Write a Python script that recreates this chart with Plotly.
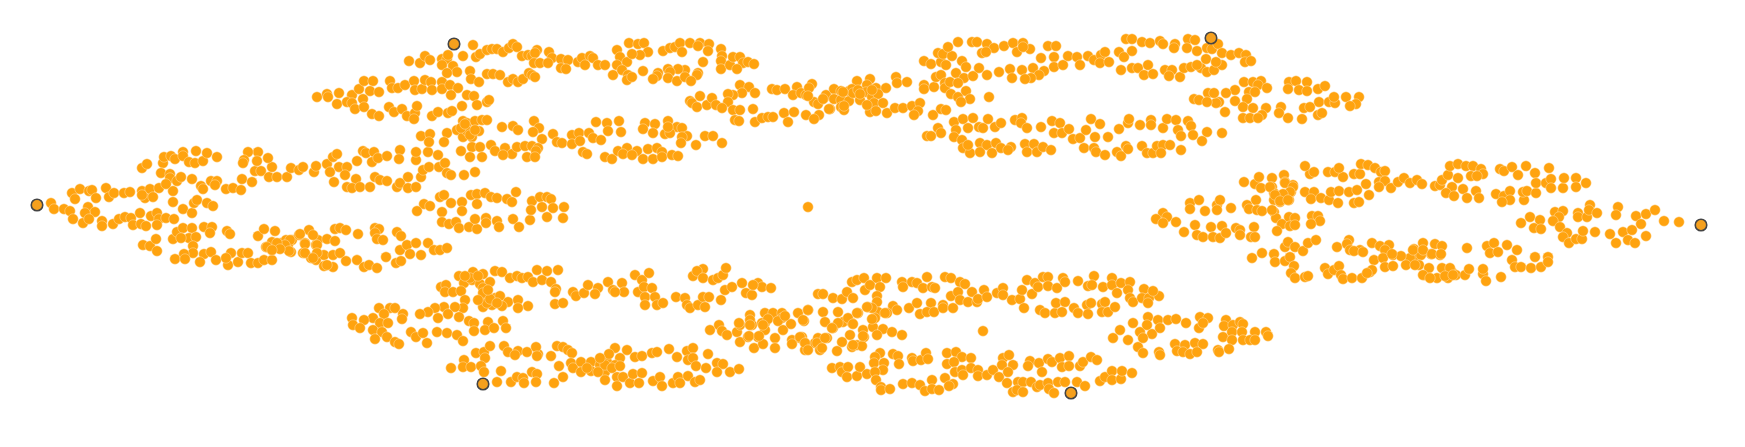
import plotly.graph_objects as go

left_arm = [(51,203),(54,209),(64,209),(70,211),(73,219),(83,223),(72,193),(80,189),(75,199),(89,191),(92,190),(96,198),(106,188),(109,197),(114,193),(124,193),(130,192),(142,191),(150,189),(159,188),(145,198),(153,197),(142,195),(88,207),(95,212),(85,213),(89,219),(102,221),(102,226),(113,224),(119,219),(125,217),(131,218),(140,213),(133,225),(141,224),(146,226),(151,216),(157,213),(159,219),(157,225),(166,218),(174,219),
(173,191),(173,202),(183,209),(192,213),(194,203),(197,200),(207,203),(213,206),(201,186),(203,189),(211,181),(217,181),(215,185),(226,189),(233,188),(241,190),(242,179),(252,182),(255,171),(261,171),(269,177),(277,177),(272,167),(268,158),(258,152),(248,152),(244,160),(243,163),(257,161),
(142,168),(147,164),(163,163),(164,157),(171,156),(175,159),(183,152),(183,156),(189,162),(196,151),(195,163),(203,161),(207,153),(217,157),(161,173),(170,174),(170,178),(166,184),(177,181),(181,177),(192,179),
(287,177),(291,168),(299,170),(303,167),(314,172),(316,166),(327,164),(333,157),(337,154),(330,172),(334,182),(339,167),(347,167),(345,175),(356,179),(347,187),(352,188),(360,187),(370,187),(357,161),(363,151),(366,153),(374,152),(372,162),(378,158),(387,156),(400,150),(399,159),(375,177),(380,180),(387,181),(397,187),(400,183),(408,177),(408,188),(416,187),(421,177),(423,170),(429,167),(416,160),(416,152),(428,152),(438,155),(439,167),(445,163),(447,173),(451,175),(464,175),(475,172),
(440,197),(444,195),(424,204),(430,206),(417,211),(451,203),(462,202),(462,211),(442,212),(442,222),(449,224),(456,222),(459,228),(469,227),(477,229),(475,219),(486,218),(486,223),(497,221),(499,227),(513,219),(519,227),(530,220),(471,195),(477,194),(485,193),(491,197),(497,198),(477,204),(507,199),(512,202),(516,192),(532,201),(540,197),(547,197),(551,199),(531,210),(542,207),(553,208),(564,207),(547,217),(563,218),
(143,245),(150,246),(156,239),(157,251),(173,239),(177,232),(183,228),(192,228),(189,238),(196,237),(181,238),(193,246),(193,253),(184,254),(175,259),(185,259),(204,227),(212,227),(210,233),(204,254),(211,252),(200,262),(216,260),(227,231),(230,234),(231,253),(228,265),(226,258),(238,262),(242,253),(248,253),(251,263),(258,263),(258,236),(264,229),(275,231),(272,250),(266,247),(272,242),(264,260),(272,260),(281,243),(286,240),(292,240),(288,245),(291,252),(299,235),(309,230),(305,243),(303,253),(318,240),(316,245),(327,239),(335,241),(335,229),(340,228),(346,230),(358,234),(375,228),(379,229),(375,233),(377,239),(383,240),(397,232),(401,236),(311,258),(316,260),(324,255),(333,255),(340,253),(346,261),(357,260),(364,267),(369,265),(377,268),(324,266),(333,267),(327,265),(386,257),(396,263),(401,261),(400,250),(407,245),(410,254),(416,243),(421,255),(428,243),(434,250),(440,250),(447,248),
(290,240),(285,245),(277,243),(289,251),(280,249),(305,244),(317,245),(305,253),(317,253),(313,258),(300,234),(313,235),(267,247),(272,250)]

upper_left = [(473,45),(463,56),(476,57),(480,54),(487,50),(492,49),(497,49),(503,52),(509,48),(513,44),(517,47),(522,56),(528,55),(532,56),(537,50),(535,53),(549,52),(552,58),(534,63),(540,63),(548,63),(561,59),(568,60),(561,68),(566,69),(578,62),(582,58),(585,65),(590,56),(593,58),(598,65),(605,65),(617,50),(620,57),(617,65),(627,62),(613,75),(622,70),(628,75),(627,80),(632,77),(629,43),(638,44),(644,43),(648,52),(640,55),(632,54),(663,51),(670,48),(675,47),(680,43),(682,52),(690,43),(700,43),(698,46),(709,44),(708,51),(721,49),(722,56),(721,61),(721,69),(730,65),(733,57),(740,57),(743,63),(748,62),(754,64),(737,69),(703,62),(698,73),(697,75),(685,70),(678,69),(668,69),(670,72),(658,73),(657,76),(643,71),(653,79),(668,78),(677,81),(685,77),(691,81),
(409,61),(420,63),(425,56),(430,60),(442,59),(447,59),(448,55),(442,65),(453,66),(457,72),(447,73),(470,71),(471,79),(479,82),(487,74),(493,74),(500,75),(508,82),(513,79),(518,82),(523,79),(529,73),(532,75),(535,77),
(317,97),(327,94),(328,97),(339,93),(337,104),(352,95),(359,89),(364,81),(373,81),(370,91),(379,92),(363,99),(347,102),(352,103),(355,109),(364,107),(372,114),(379,116),(389,107),(394,112),(402,109),(407,116),(415,113),(417,106),(414,119),(390,81),(392,88),(398,88),(405,85),(414,81),(415,90),(422,89),(425,80),(431,82),(432,90),(442,82),(442,89),(450,85),(458,88),(451,95),(467,95),(474,96),(477,105),(462,106),(487,102),(489,100),(432,116),(438,112),(448,113),(452,111),
(463,121),(467,123),(475,121),(482,120),(487,120),(479,131),(502,127),(513,126),(518,130),(534,121),(539,128),(533,132),(553,134),(542,139),(557,142),(562,143),(572,135),(579,133),(572,144),(589,133),(593,138),(601,140),(580,141),(596,122),(607,123),(619,121),(608,131),(621,132),(645,123),(655,124),(643,129),(653,133),(668,121),(677,127),(682,128),(665,134),(670,133),(687,136),(682,137),(681,143),(696,145),(705,136),(713,136),(722,143),(668,127),
(421,136),(430,134),(429,142),(447,133),(444,142),(457,130),(463,137),(472,137),(472,147),(480,147),(491,145),(495,151),(505,148),(512,154),(517,147),(525,146),(532,146),(538,148),(536,151),(527,157),(535,157),(503,155),(461,151),(470,157),(482,157),(583,152),(587,154),(605,157),(612,159),(618,151),(627,148),(623,154),(637,151),(632,155),(648,149),(657,148),(662,152),(643,159),(653,159),(662,157),(672,155),(678,156),
(740,85),(749,87),(755,93),(742,93),(733,95),(728,94),(728,102),(733,110),(740,110),(735,120),(739,121),(753,109),(755,122),(762,118),(768,117),(773,117),(772,89),(777,90),(690,101),(692,103),(697,107),(700,96),(707,105),(712,98),(716,105),(722,108),
(467,131),(461,128),(470,135),(465,124),(475,130)]

upper_right = [(785,89),(797,87),(793,95),(801,93),(806,95),(812,84),(809,88),(784,113),(794,112),(806,115),(819,115),(814,119),(788,122),(824,98),(826,95),(814,102),(818,104),(834,89),(841,91),(849,91),(834,99),(841,100),(849,101),(857,81),(852,89),(870,79),(867,85),(866,92),(876,88),(886,88),(860,100),(872,97),(878,94),(874,103),(883,103),(870,112),(876,111),(830,109),(841,107),(844,110),(887,113),(895,108),(903,108),(912,106),(920,103),(918,111),(914,115),
(896,77),(897,83),(907,82),(924,85),(924,89),(934,87),(936,77),(941,75),(945,83),(945,88),(950,82),(956,73),(962,61),(966,67),(964,78),(973,76),(979,68),(987,75),(958,83),(951,94),(958,97),(966,91),(970,99),(961,102),(989,97),
(924,61),(931,64),(941,62),(946,65),(938,53),(943,54),(952,56),(948,47),(958,42),(972,42),(977,42),(987,44),(994,48),(1004,46),(1013,43),(1023,43),(1017,52),(1030,49),(1023,47),(982,53),(986,52),(1041,58),(1048,46),(1056,46),(1054,57),(1054,67),(1063,65),(1068,56),(1077,57),(1080,65),(1088,56),(1094,60),(1101,55),(1105,52),(1100,63),(1109,62),(999,72),(1010,69),(1022,70),(1033,68),(1044,71),(1039,75),(1031,78),(1025,79),(1012,78),(1119,52),(1124,57),(1121,70),(1126,39),(1132,39),(1142,42),(1150,43),(1160,41),(1163,44),(1175,44),(1174,48),(1132,51),(1132,68),(1138,68),(1148,65),(1144,75),(1153,74),(1165,70),(1172,70),(1169,76),(1180,77),(1184,68),(1191,67),(1201,68),(1197,65),(1207,72),(1214,70),(1222,65),(1188,39),(1195,40),(1187,48),(1197,51),(1207,48),(1212,49),(1218,44),(1222,53),(1206,59),(1216,62),(1231,55),(1239,53),(1246,55),(1245,62),(1251,61),
(1244,82),(1253,82),(1261,81),(1258,85),(1267,88),(1235,90),(1226,93),(1249,92),(1255,92),(1219,102),(1216,103),(1235,101),(1247,99),(1208,93),(1214,93),(1194,99),(1199,100),(1207,102),(1225,112),(1243,107),(1253,108),(1266,108),(1262,115),(1243,118),(1250,118),(1258,118),(1281,107),(1279,113),(1288,118),(1302,119),(1304,108),(1310,107),(1319,102),(1329,102),(1335,103),(1334,97),(1346,97),(1359,97),(1356,104),(1350,106),(1318,115),(1322,113),(1289,82),(1296,81),(1288,89),(1299,90),(1307,82),(1307,91),(1318,89),(1325,86),
(933,115),(941,109),(946,110),(938,128),(941,133),(927,136),(931,136),(954,122),(963,119),(956,130),(954,137),(962,140),(973,118),(968,128),(979,127),(983,128),(988,119),(995,127),(1001,123),(1015,120),(1022,118),(1021,123),(1027,128),(1041,127),(1052,121),(1060,123),(1054,133),(1062,133),(1069,129),(1073,139),(1080,138),(1086,130),(1091,119),(1100,124),(1095,137),(1108,137),(1119,129),(1128,123),(1129,119),(1140,125),(1151,120),(1151,125),(1163,128),(1167,119),(1176,120),(1178,130),(1188,121),(1191,126),(1181,136),(1193,135),(1207,132),(1202,141),(1222,133),
(963,148),(970,153),(968,145),(980,143),(980,152),(987,145),(992,153),(996,143),(1001,148),(1011,147),(1008,150),(1025,144),(1027,152),(1034,144),(1037,152),(1043,147),(1051,150),(1084,148),(1094,148),(1096,152),(1105,155),(1117,152),(1121,156),(1126,146),(1128,149),(1142,146),(1147,153),(1153,153),(1157,146),(1163,145),(1170,145),(1161,153),(1181,150),
(823,99),(853,93),(867,105),(858,90),(872,90),(808,96),(843,92),(829,109),(844,106),(860,94)]

right_arm = [(1244,182),(1255,184),(1259,177),(1261,188),(1272,178),(1272,187),(1284,175),(1285,182),(1293,185),(1291,192),(1274,193),(1284,195),(1274,200),(1289,200),(1280,202),(1256,200),(1247,205),(1249,209),(1257,210),(1262,211),(1274,212),(1276,218),(1282,224),(1289,217),(1295,218),(1290,226),(1295,225),(1277,231),(1312,216),(1318,216),(1320,221),(1311,224),(1305,192),(1314,192),(1311,199),(1321,198),(1329,200),(1338,203),(1331,192),(1339,191),(1349,192),(1357,190),(1354,203),(1359,202),(1369,195),(1328,172),(1335,172),(1343,177),(1339,168),(1354,174),(1360,174),(1361,164),(1368,165),(1375,168),(1381,172),(1385,171),(1310,174),(1305,166),(1314,172),(1366,184),(1379,182),(1385,181),(1379,187),(1391,188),(1398,182),(1404,178),(1410,183),(1417,180),(1422,184),(1435,186),(1440,185),(1442,180),(1448,175),(1458,178),(1452,187),(1446,193),(1454,196),(1463,189),(1467,198),(1476,191),(1479,198),(1450,166),(1458,164),(1466,166),(1473,166),(1481,169),(1483,174),(1471,176),(1477,176),(1500,169),(1504,171),(1512,167),(1526,166),(1518,175),(1535,173),(1549,168),(1496,194),(1504,196),(1510,191),(1510,200),(1502,202),(1524,200),(1523,192),(1527,191),(1536,193),(1536,183),(1546,183),(1551,179),(1551,188),(1563,188),(1564,178),(1576,178),(1576,187),(1586,183),
(1190,203),(1199,200),(1190,209),(1205,211),(1217,205),(1220,200),(1217,210),(1231,208),(1163,213),(1167,217),(1156,219),(1163,223),(1176,222),(1184,232),(1195,225),(1197,235),(1203,237),(1211,227),(1213,237),(1220,238),(1222,226),(1226,233),(1236,228),(1240,230),(1240,235),(1254,227),(1251,237),(1255,237),
(1285,247),(1288,242),(1295,247),(1303,251),(1308,243),(1316,240),(1337,247),(1349,240),(1347,244),(1350,250),(1360,250),(1354,251),(1372,243),(1380,246),(1389,245),(1385,250),(1414,249),(1423,243),(1435,244),(1442,246),(1431,254),(1440,255),(1416,257),(1421,255),(1410,258),(1393,255),(1401,256),(1374,260),(1383,258),(1385,267),(1393,266),(1406,265),(1419,265),(1252,258),(1262,253),(1274,254),(1275,262),(1285,261),(1290,257),(1294,266),(1291,273),(1295,278),(1305,277),(1308,276),(1325,268),(1328,274),(1334,270),(1339,266),(1341,275),(1343,279),(1352,278),(1362,278),(1370,272),(1425,275),(1429,268),(1437,278),(1442,268),(1448,278),(1452,272),(1456,275),(1465,275),(1469,269),(1483,274),(1483,269),(1486,281),(1501,277),
(1467,248),(1487,246),(1494,243),(1490,253),(1498,252),(1507,245),(1517,250),(1512,260),(1515,267),(1521,267),(1535,257),(1548,257),(1531,268),(1541,267),(1548,262),
(1521,223),(1530,217),(1540,220),(1534,228),(1541,229),(1555,212),(1563,211),(1559,217),(1553,221),(1560,227),(1567,233),(1563,237),(1569,243),(1576,239),(1582,239),(1583,231),(1595,232),(1578,213),(1578,217),(1587,217),(1590,205),(1589,210),(1597,213),(1618,207),(1616,215),(1636,216),(1646,214),(1655,210),(1641,224),(1664,221),(1679,222),(1610,234),(1623,232),(1632,230),(1616,243),(1628,240),(1635,243),(1646,236),
(1270,187),(1285,183),(1293,187),(1290,192),(1283,194),(1275,195),(1280,201),(1288,200),(1272,210),
(1363,252),(1392,254),(1413,250),(1423,250),(1432,254),(1441,254),(1415,265),(1450,268),(1445,276),(1453,275),(1372,270),(1367,273),(1423,275),(1430,278)]

lower_left = [(459,276),(464,283),(473,272),(472,280),(483,274),(480,284),(490,282),(495,271),(502,272),(510,278),(517,276),(522,278),(528,277),(533,282),(537,270),(542,280),(547,271),(551,282),(558,270),(556,289),(555,292),(441,287),(446,285),(445,292),(453,292),(461,291),(465,300),(463,308),(455,307),(444,307),(435,308),(428,312),(420,314),(438,318),(448,314),(459,317),(483,288),(483,297),(495,298),(500,296),(508,302),(518,300),(528,306),(518,308),(502,306),(492,305),(483,307),(487,303),(555,304),(563,303),
(379,308),(390,308),(395,308),(384,314),(403,314),(402,319),(373,318),(380,323),(388,323),(352,318),(364,320),(353,325),(360,328),(373,330),(382,332),(387,337),(375,339),(395,342),(399,344),(411,332),(416,337),(423,333),(427,343),(437,332),(447,333),(457,335),(463,341),(469,321),(474,323),(474,331),(488,322),(485,330),(494,328),(503,321),(506,328),
(476,353),(484,352),(490,346),(485,358),(464,360),(451,368),(463,367),(471,367),(481,366),(484,372),(501,371),(497,382),(504,346),(508,352),(518,351),(515,355),(527,352),(538,354),(536,347),(537,356),(551,356),(557,346),(563,347),(568,350),(572,353),(559,366),(571,363),(573,368),(581,362),(581,372),(591,362),(591,371),(600,365),(605,372),(607,362),(615,348),(609,354),(620,358),(615,365),(627,350),(635,357),(642,356),(652,353),(657,352),(669,349),(677,357),(687,351),(693,348),(688,360),(693,358),(696,366),(706,368),(708,354),(717,363),(723,364),(717,372),(730,372),(739,369),
(511,382),(517,377),(523,378),(532,372),(537,374),(536,382),(524,383),(554,383),(563,377),(605,380),(617,377),(617,386),(623,377),(630,383),(633,374),(642,373),(639,383),(653,381),(660,377),(662,386),(673,383),(678,377),(680,383),(688,376),(695,382),(700,380),
(573,292),(576,296),(584,293),(588,285),(598,288),(595,294),(608,282),(613,290),(622,283),(624,292),(615,292),(635,275),(642,280),(649,273),(638,292),(644,287),(652,288),(645,297),(655,297),(645,305),(657,305),(663,303),(676,297),(685,298),(687,305),(690,308),(698,305),(703,297),(709,297),(705,307),(721,300),(693,276),(703,269),(697,271),(703,278),(713,280),(718,278),(723,275),(726,268),(725,290),(732,287),(742,283),(746,293),(752,295),(758,283),(762,287),(771,288),(753,285),
(710,330),(719,325),(722,331),(727,335),(737,332),(740,325),(740,342),(750,315),(752,325),(748,337),(758,337),(765,313),(765,323),(773,313),(765,330),(754,348),(763,344),(775,338),(775,348),(782,313),(783,330),(791,324),(798,313),(804,321),(808,310),(782,318),(792,340),(802,337),(805,343),(805,350),(815,343),(818,338),(818,294),
(762,323),(768,319),(778,321),(785,316),(750,320),(739,323),(750,325),(763,325),(749,336),(759,336),(792,344),(800,338),
(605,365),(598,372),(612,368),(620,366),(587,368),(600,358),(483,293),(490,299),(497,303),(478,300),(488,290),(470,278),(465,276),(478,276)]

lower_right = [(823,294),(833,298),(842,299),(847,292),(852,282),(857,280),(853,298),(864,278),(865,290),(870,285),(877,278),(886,278),(880,287),(877,296),(868,307),(877,302),(893,306),(897,310),(887,313),(878,312),(858,313),
(808,310),(823,312),(838,312),(825,322),(803,320),(843,322),(852,323),(833,328),(848,318),(850,335),(863,330),(873,327),(875,318),(883,329),(892,332),(902,335),(877,335),(864,337),(872,308),
(800,337),(805,343),(817,343),(827,338),(820,350),(842,342),(837,351),(852,347),(857,345),(862,346),
(902,282),(903,287),(912,282),(917,283),(923,288),(927,277),(932,287),(935,288),(945,277),(951,278),(960,282),(965,284),(909,308),(917,303),(920,314),(931,303),(927,312),(934,312),(943,305),(943,308),(953,308),(951,296),(958,292),(960,300),(968,302),(972,292),(977,302),(978,299),(984,290),(987,297),(997,293),(1003,288),(1003,295),(1012,300),(1020,299),(1022,290),(1032,294),(1024,308),
(1027,280),(1035,283),(1038,287),(1043,277),(1048,277),(1048,286),(1057,288),(1063,278),(1065,282),(1078,281),(1094,276),(1088,286),(1092,285),(1103,287),(1112,278),(1112,285),(1121,283),(1130,282),(1128,290),(1117,293),(1130,298),(1133,302),(1144,289),(1142,298),(1149,298),(1148,303),(1159,296),(1153,291),
(1040,310),(1045,313),(1055,313),(1056,303),(1065,302),(1062,312),(1074,308),(1078,313),(1087,305),(1091,303),(1088,314),(1102,304),(1105,302),(1102,312),(1108,312),(1115,307),
(983,331),
(1120,330),(1113,338),(1128,340),(1133,323),(1140,332),(1138,347),(1143,353),(1148,317),(1147,325),(1152,334),(1143,338),(1158,320),(1160,328),(1168,320),(1176,319),(1159,352),(1160,355),(1186,323),(1200,317),(1208,318),(1199,328),(1203,323),(1175,344),(1185,345),(1177,351),(1183,352),(1195,343),(1203,344),(1190,354),(1197,352),(1226,320),(1224,326),(1233,325),(1240,322),(1243,324),(1223,337),(1232,332),(1242,332),(1255,332),(1232,340),(1243,340),(1250,340),(1255,340),(1266,332),(1268,336),(1218,350),(1219,352),(1229,349),
(832,368),(840,367),(842,372),(848,367),(847,377),(857,376),(860,367),(867,374),(880,353),(875,357),(874,363),(884,363),(883,370),(875,372),(876,380),(881,387),(881,390),(890,389),(893,354),(898,356),(899,364),(912,358),(913,361),(921,360),(926,353),(928,359),(903,384),(912,383),(920,385),(925,391),(932,380),(932,389),(939,390),(945,378),(953,384),(949,386),(947,353),(956,352),(962,357),(971,358),(947,364),(954,362),(955,372),(962,370),(963,375),(971,368),(978,370),(978,376),(987,375),(993,370),(999,377),(1003,358),(1009,355),(1002,365),(1013,365),(1008,372),(1007,383),(1018,382),(1023,382),(1031,382),(1037,387),(1040,385),(1030,361),(1039,363),(1028,366),(1042,372),(1048,359),(1052,362),(1060,358),(1069,356),(1062,367),(1069,366),(1080,366),(1083,362),(1091,357),(1097,360),(1048,383),(1058,382),(1065,382),(1077,382),(1085,386),(1049,389),(1054,393),(1013,392),(1017,390),(1023,392),
(1100,381),(1105,377),(1112,371),(1112,380),(1121,379),(1122,371),(1132,373),
(825,338),(822,348),(808,350),(853,345),(863,336),(838,323),(832,328),(853,324),(857,313),(867,307),(872,319),(885,313)]

centre_point = [(808,207)]
hull_points = [(37,205),(454,44),(1211,38),(1701,225),(1071,393),(483,384)]

all_points = left_arm + upper_left + upper_right + right_arm + lower_left + lower_right + centre_point

fig = go.Figure()
fig.add_trace(go.Scatter(
    x=[p[0] for p in all_points], y=[p[1] for p in all_points], mode="markers",
    marker=dict(size=10.5, color="#FFA30F", line=dict(width=0.6, color="rgba(255,225,180,0.8)")),
    hoverinfo="skip", showlegend=False))
fig.add_trace(go.Scatter(
    x=[p[0] for p in hull_points], y=[p[1] for p in hull_points], mode="markers",
    marker=dict(size=11.5, color="#F5A01E", line=dict(width=1.6, color="#444444")),
    hoverinfo="skip", showlegend=False))
fig.update_layout(
    width=1745, height=447, margin=dict(l=0, r=0, t=0, b=0),
    paper_bgcolor="white", plot_bgcolor="white",
    xaxis=dict(range=[0, 1745], visible=False),
    yaxis=dict(range=[447, 0], visible=False))
fig.write_html("out.html", config=dict(displayModeBar=False),
               post_script="document.body.style.margin='0';document.body.style.overflow='hidden';")
